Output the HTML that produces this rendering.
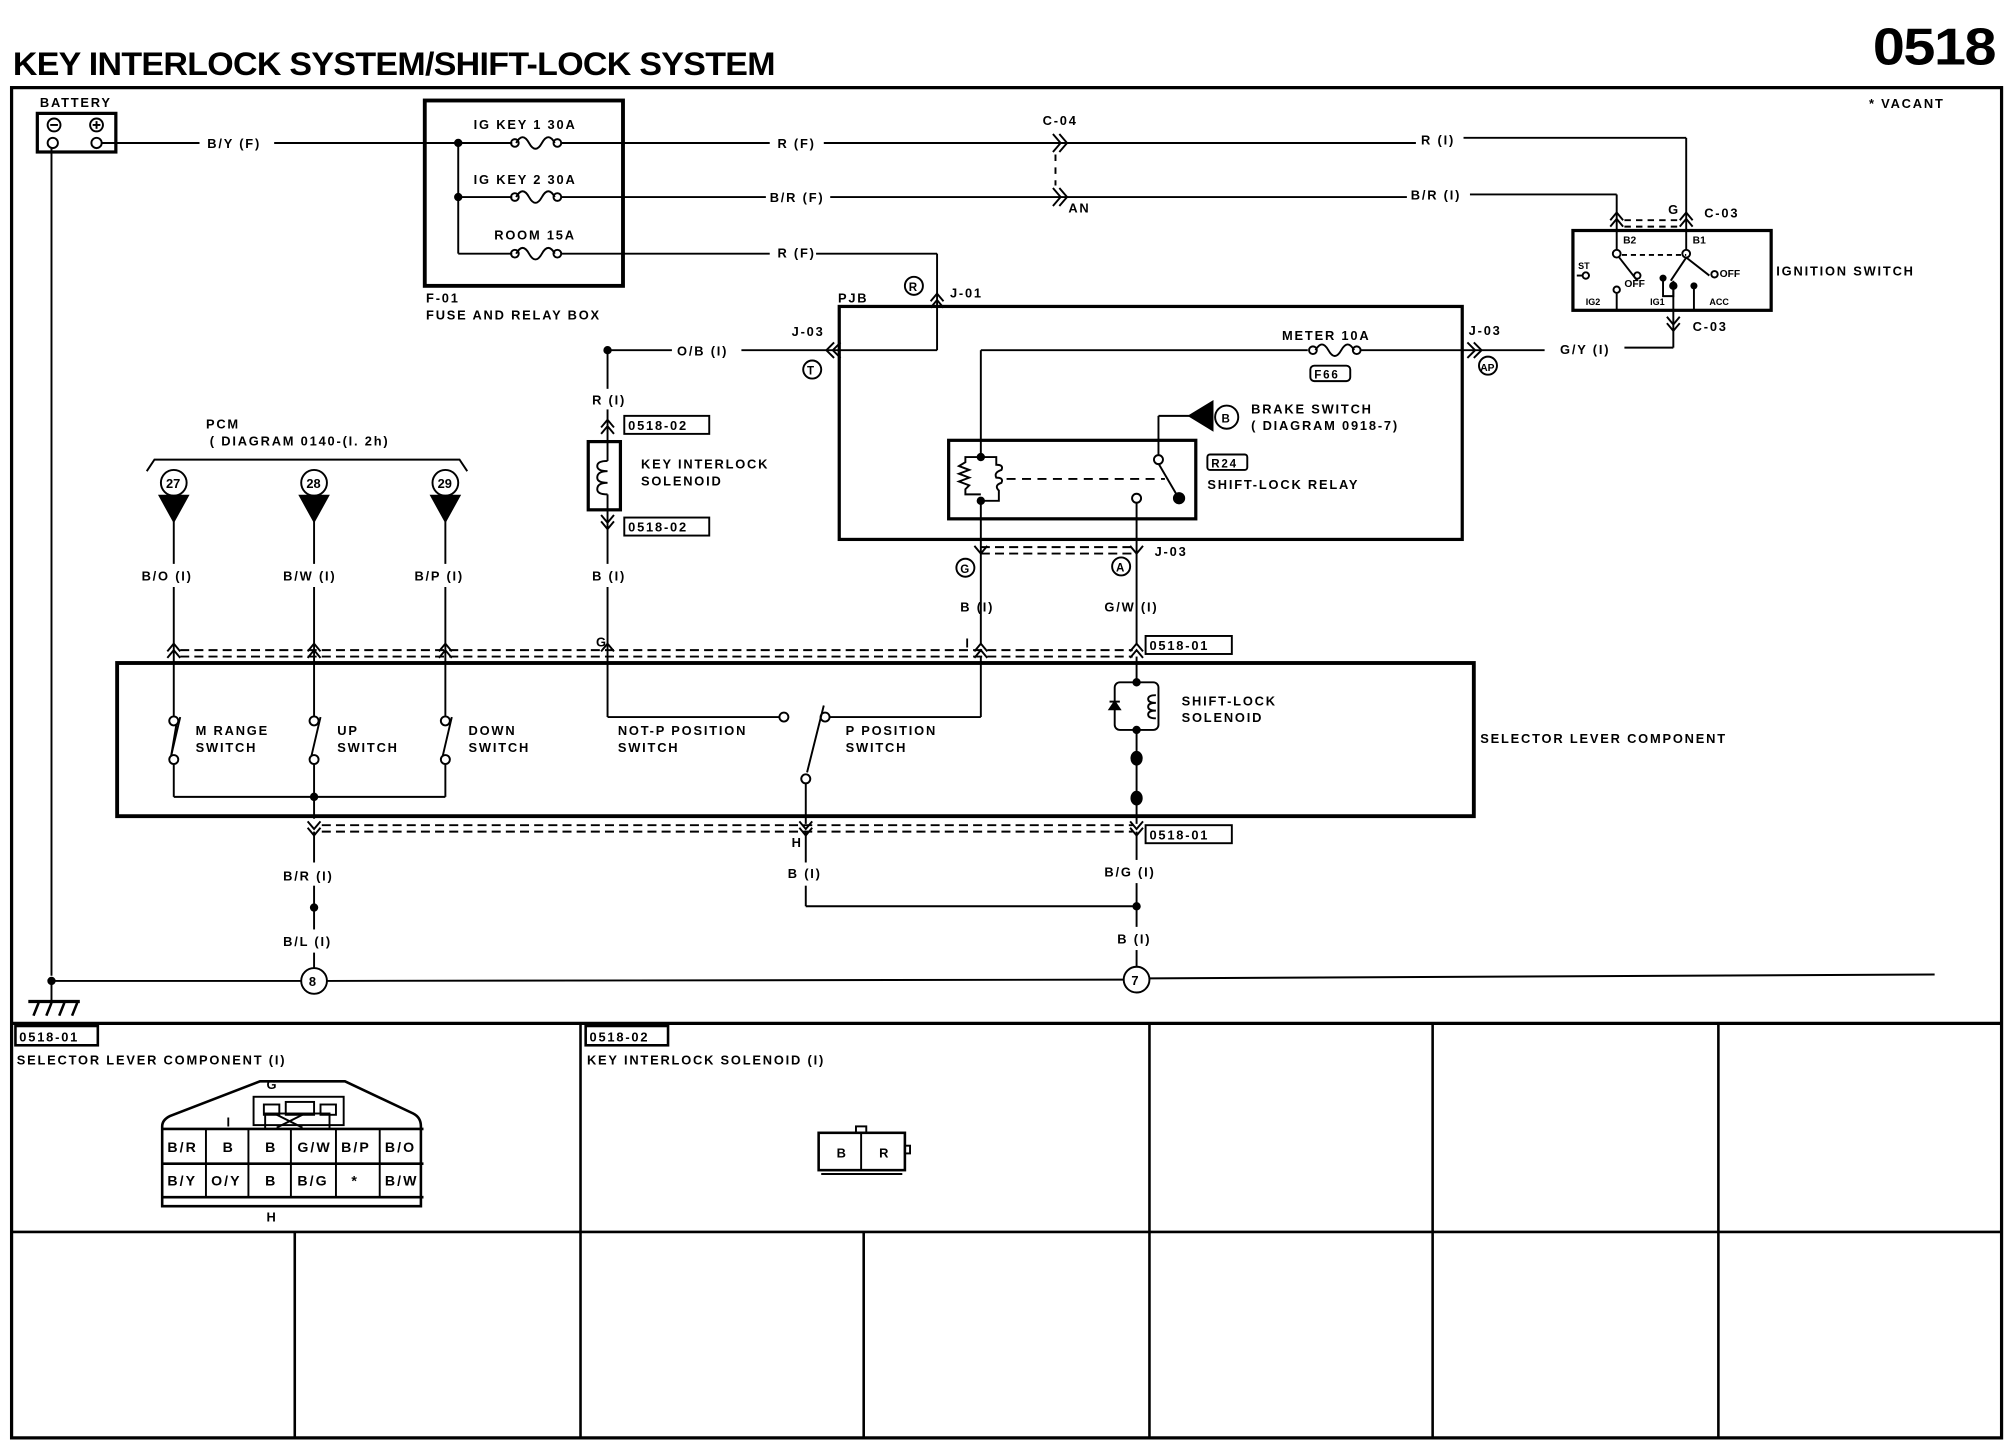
<!DOCTYPE html>
<html><head><meta charset="utf-8"><style>
html,body{margin:0;padding:0;background:#fff;}
svg{display:block;}
text{font-family:"Liberation Sans Narrow","Liberation Sans",sans-serif;font-weight:bold;font-size:11px;letter-spacing:1.6px;fill:#000;}
.t{font-size:10px;letter-spacing:1.4px;}
</style></head><body>
<svg width="2008" height="1456" viewBox="0 0 1560 1131" xmlns="http://www.w3.org/2000/svg" stroke="#000" fill="none" stroke-width="1.5">
<!-- title -->
<text x="10" y="58" stroke="none" style="font-family:'Liberation Sans',sans-serif;font-size:25px;letter-spacing:-0.5px;" textLength="592" lengthAdjust="spacingAndGlyphs">KEY INTERLOCK SYSTEM/SHIFT-LOCK SYSTEM</text>
<text x="1455" y="50" stroke="none" style="font-family:'Liberation Sans',sans-serif;font-size:40px;letter-spacing:-1px;" textLength="95" lengthAdjust="spacingAndGlyphs">0518</text>
<!-- frame -->
<rect x="9" y="68" width="1546" height="1049" stroke-width="2.5"/>
<line x1="9" y1="795" x2="1555" y2="795" stroke-width="2.5"/>
<line x1="9" y1="957" x2="1555" y2="957" stroke-width="2"/>
<line x1="451" y1="795" x2="451" y2="1117" stroke-width="2"/>
<line x1="893" y1="795" x2="893" y2="1117" stroke-width="2"/>
<line x1="1113" y1="795" x2="1113" y2="1117" stroke-width="2"/>
<line x1="1335" y1="795" x2="1335" y2="1117" stroke-width="2"/>
<line x1="229" y1="957" x2="229" y2="1117" stroke-width="2"/>
<line x1="671" y1="957" x2="671" y2="1117" stroke-width="2"/>
<text x="1452" y="84" stroke="none" class="t">* VACANT</text>

<!-- battery -->
<text x="31" y="83" stroke="none" class="t">BATTERY</text>
<rect x="29" y="88" width="61" height="30" stroke-width="2.5"/>
<circle cx="42" cy="97" r="5"/><line x1="39" y1="97" x2="45" y2="97"/>
<circle cx="75" cy="97" r="5"/><line x1="72" y1="97" x2="78" y2="97"/><line x1="75" y1="94" x2="75" y2="100"/>
<circle cx="41" cy="111" r="4"/><circle cx="75" cy="111" r="4"/>
<line x1="79" y1="111" x2="155" y2="111"/><text x="161" y="115" stroke="none" class="t">B/Y (F)</text>
<line x1="213" y1="111" x2="356" y2="111"/>
<line x1="40" y1="115" x2="40" y2="758"/>

<!-- fuse box -->
<rect x="330" y="78" width="154" height="144" stroke-width="3"/>
<line x1="356" y1="111" x2="356" y2="197"/>
<circle cx="356" cy="111" r="2.5" fill="#000"/><circle cx="356" cy="153" r="2.5" fill="#000"/>
<text x="368" y="100" stroke="none" class="t">IG KEY 1 30A</text>
<text x="368" y="143" stroke="none" class="t">IG KEY 2 30A</text>
<text x="384" y="186" stroke="none" class="t">ROOM 15A</text>
<g>
<line x1="356" y1="111" x2="398" y2="111"/><path d="M401 111 q5 -9 10 0 q5 9 10 0 q5 -9 10 0"/><circle cx="400" cy="111" r="3"/><circle cx="433" cy="111" r="3"/>
<line x1="356" y1="153" x2="398" y2="153"/><path d="M401 153 q5 -9 10 0 q5 9 10 0 q5 -9 10 0"/><circle cx="400" cy="153" r="3"/><circle cx="433" cy="153" r="3"/>
<line x1="356" y1="197" x2="398" y2="197"/><path d="M401 197 q5 -9 10 0 q5 9 10 0 q5 -9 10 0"/><circle cx="400" cy="197" r="3"/><circle cx="433" cy="197" r="3"/>
</g>
<text x="331" y="235" stroke="none" class="t">F-01</text>
<text x="331" y="248" stroke="none" class="t">FUSE AND RELAY BOX</text>

<!-- top wires -->
<line x1="436" y1="111" x2="598" y2="111"/><text x="604" y="115" stroke="none" class="t">R (F)</text>
<line x1="640" y1="111" x2="1100" y2="111"/><text x="1104" y="112" stroke="none" class="t">R (I)</text>
<line x1="1137" y1="107" x2="1310" y2="107"/><line x1="1310" y1="107" x2="1310" y2="165"/>
<line x1="436" y1="153" x2="595" y2="153"/><text x="598" y="157" stroke="none" class="t">B/R (F)</text>
<line x1="645" y1="153" x2="1093" y2="153"/><text x="1096" y="155" stroke="none" class="t">B/R (I)</text>
<line x1="1142" y1="151" x2="1256" y2="151"/><line x1="1256" y1="151" x2="1256" y2="165"/>
<text x="810" y="97" stroke="none" class="t">C-04</text>
<path d="M818 104 l6 7 l-6 7 M823 104 l6 7 l-6 7"/>
<path d="M818 146 l6 7 l-6 7 M823 146 l6 7 l-6 7"/>
<line x1="820" y1="120" x2="820" y2="144" stroke-dasharray="5,5"/>
<text x="830" y="165" stroke="none" class="t">AN</text>

<!-- room wire -->
<line x1="436" y1="197" x2="598" y2="197"/><text x="604" y="200" stroke="none" class="t">R (F)</text>
<line x1="634" y1="197" x2="728" y2="197"/><line x1="728" y1="197" x2="728" y2="272"/>
<line x1="728" y1="272" x2="642" y2="272"/>
<path d="M723 234 l5 -6 l5 6 M723 239 l5 -6 l5 6"/>
<circle cx="710" cy="222" r="7"/><text x="706" y="226" stroke="none" class="t" style="font-size:9px">R</text>
<text x="738" y="231" stroke="none" class="t">J-01</text>
<text x="651" y="235" stroke="none" class="t">PJB</text>
<text x="615" y="261" stroke="none" class="t">J-03</text>
<path d="M648 266 l-6 6 l6 6 M653 266 l-6 6 l6 6"/>
<circle cx="631" cy="287" r="7"/><text x="627" y="291" stroke="none" class="t" style="font-size:9px">T</text>
<line x1="472" y1="272" x2="522" y2="272"/><text x="526" y="276" stroke="none" class="t">O/B (I)</text>
<line x1="576" y1="272" x2="642" y2="272"/>
<circle cx="472" cy="272" r="2.5" fill="#000"/>

<!-- key interlock solenoid -->
<line x1="472" y1="272" x2="472" y2="302"/><text x="460" y="314" stroke="none" class="t">R (I)</text>
<line x1="472" y1="318" x2="472" y2="343"/>
<path d="M467 332 l5 -6 l5 6 M467 337 l5 -6 l5 6"/>
<rect x="485" y="323" width="66" height="14"/><text x="488" y="334" stroke="none" class="t">0518-02</text>
<rect x="457" y="343" width="25" height="53" stroke-width="2.5"/>
<line x1="472" y1="343" x2="472" y2="358"/><line x1="472" y1="384" x2="472" y2="396"/>
<path d="M472 358 q-8 0 -8 4 q0 4 8 4 q-8 0 -8 5 q0 4 8 4 q-8 0 -8 5 q0 4 8 4"/>
<text x="498" y="364" stroke="none" class="t">KEY INTERLOCK</text>
<text x="498" y="377" stroke="none" class="t">SOLENOID</text>
<line x1="472" y1="396" x2="472" y2="438"/>
<path d="M467 400 l5 6 l5 -6 M467 405 l5 6 l5 -6"/>
<rect x="485" y="402" width="66" height="14"/><text x="488" y="413" stroke="none" class="t">0518-02</text>
<text x="460" y="451" stroke="none" class="t">B (I)</text>
<line x1="472" y1="456" x2="472" y2="557"/>
<text x="463" y="502" stroke="none" class="t">G</text>
<line x1="472" y1="557" x2="605" y2="557"/><circle cx="609" cy="557" r="3.5"/>

<!-- PJB box -->
<rect x="652" y="238" width="484" height="181" stroke-width="2.5"/>
<line x1="762" y1="272" x2="1016" y2="272"/>
<path d="M1022 272 q5 -9 10 0 q5 9 10 0 q5 -9 10 0"/><circle cx="1020" cy="272" r="3"/><circle cx="1054" cy="272" r="3"/>
<line x1="1057" y1="272" x2="1200" y2="272"/>
<text x="996" y="264" stroke="none" class="t">METER 10A</text>
<rect x="1018" y="284" width="31" height="12" rx="3"/><text x="1021" y="294" stroke="none" class="t" style="font-size:9px">F66</text>
<text x="1141" y="260" stroke="none" class="t">J-03</text>
<path d="M1140 266 l6 6 l-6 6 M1145 266 l6 6 l-6 6"/>
<circle cx="1156" cy="284" r="7"/><text x="1150" y="288" stroke="none" class="t" style="font-size:8px;letter-spacing:0">AP</text>
<text x="1212" y="275" stroke="none" class="t">G/Y (I)</text>
<line x1="1262" y1="270" x2="1300" y2="270"/><line x1="1300" y1="270" x2="1300" y2="241"/>
<path d="M1295 246 l5 6 l5 -6 M1295 251 l5 6 l5 -6"/>
<text x="1315" y="257" stroke="none" class="t">C-03</text>

<!-- relay -->
<rect x="737" y="342" width="192" height="61" stroke-width="2.5"/>
<line x1="762" y1="272" x2="762" y2="355"/>
<circle cx="762" cy="355" r="2.5" fill="#000"/><circle cx="762" cy="389" r="2.5" fill="#000"/>
<path d="M762 355 h-12 v4 l-5 3 l8 3 l-8 3 l8 3 l-8 3 l8 3 l-3 3 v4 h12 M762 355 h12 v6 q6 0 4 4 q-6 2 -4 6 q6 0 4 4 q-6 2 -2 6 v8 h-14"/>
<line x1="762" y1="389" x2="762" y2="500"/>
<line x1="782" y1="372" x2="905" y2="372" stroke-dasharray="7,5"/>
<circle cx="900" cy="357" r="3.5"/><line x1="900" y1="353" x2="900" y2="323"/>
<line x1="900" y1="360" x2="914" y2="384"/><circle cx="916" cy="387" r="4" fill="#000"/>
<circle cx="883" cy="387" r="3.5"/><line x1="883" y1="391" x2="883" y2="500"/>
<line x1="900" y1="323" x2="927" y2="323"/>
<path d="M924 323 l18 -11 v22 z" fill="#000"/>
<circle cx="953" cy="324" r="9"/><text x="949" y="328" stroke="none" class="t" style="font-size:9px">B</text>
<text x="972" y="321" stroke="none" class="t">BRAKE SWITCH</text>
<text x="972" y="334" stroke="none" class="t">( DIAGRAM 0918-7)</text>
<rect x="938" y="353" width="31" height="12" rx="2"/><text x="941" y="363" stroke="none" class="t" style="font-size:9px">R24</text>
<text x="938" y="380" stroke="none" class="t">SHIFT-LOCK RELAY</text>
<line x1="762" y1="425" x2="883" y2="425" stroke-dasharray="7,4"/>
<line x1="762" y1="430" x2="883" y2="430" stroke-dasharray="7,4"/>
<path d="M757 424 l5 6 l5 -6 M878 424 l5 6 l5 -6"/>
<circle cx="750" cy="441" r="7"/><text x="746" y="445" stroke="none" class="t" style="font-size:9px">G</text>
<circle cx="871" cy="440" r="7"/><text x="867" y="444" stroke="none" class="t" style="font-size:9px">A</text>
<text x="897" y="432" stroke="none" class="t">J-03</text>
<text x="746" y="475" stroke="none" class="t">B (I)</text>
<text x="858" y="475" stroke="none" class="t">G/W (I)</text>
<text x="750" y="503" stroke="none" class="t">I</text>
<rect x="890" y="494" width="67" height="14"/><text x="893" y="505" stroke="none" class="t">0518-01</text>

<!-- ignition switch -->
<rect x="1222" y="179" width="154" height="62" stroke-width="2.5"/>
<text x="1380" y="214" stroke="none" class="t">IGNITION SWITCH</text>
<text x="1324" y="169" stroke="none" class="t">C-03</text>
<text x="1296" y="166" stroke="none" class="t">G</text>
<path d="M1251 171 l5 -6 l5 6 M1251 176 l5 -6 l5 6 M1305 171 l5 -6 l5 6 M1305 176 l5 -6 l5 6"/>
<line x1="1262" y1="171" x2="1305" y2="171" stroke-dasharray="5,4"/><line x1="1262" y1="176" x2="1305" y2="176" stroke-dasharray="5,4"/>
<line x1="1256" y1="165" x2="1256" y2="194"/><line x1="1310" y1="165" x2="1310" y2="194"/>
<circle cx="1256" cy="197" r="3"/><circle cx="1310" cy="197" r="3"/>
<text x="1261" y="189" stroke="none" style="font-size:8px;letter-spacing:0">B2</text>
<text x="1315" y="189" stroke="none" style="font-size:8px;letter-spacing:0">B1</text>
<line x1="1260" y1="198" x2="1310" y2="198" stroke-dasharray="4,3"/>
<line x1="1258" y1="200" x2="1272" y2="218"/>
<line x1="1310" y1="200" x2="1298" y2="218"/><line x1="1310" y1="200" x2="1328" y2="214"/>
<circle cx="1232" cy="214" r="2.5"/><line x1="1225" y1="214" x2="1230" y2="214"/>
<text x="1226" y="209" stroke="none" style="font-size:7px;letter-spacing:0">ST</text>
<circle cx="1272" cy="214" r="2.5"/><circle cx="1256" cy="225" r="2.5"/><line x1="1256" y1="228" x2="1256" y2="241"/>
<text x="1262" y="223" stroke="none" style="font-size:8px;letter-spacing:0">OFF</text>
<text x="1336" y="215" stroke="none" style="font-size:8px;letter-spacing:0">OFF</text>
<circle cx="1332" cy="213" r="2.5"/>
<path d="M1292 218 v12 h8 v-12" /><circle cx="1292" cy="216" r="2" fill="#000"/><circle cx="1300" cy="222" r="2.5" fill="#000"/>
<line x1="1300" y1="225" x2="1300" y2="241"/><circle cx="1316" cy="222" r="2" fill="#000"/><line x1="1316" y1="224" x2="1316" y2="241"/>
<text x="1232" y="237" stroke="none" style="font-size:7px;letter-spacing:0">IG2</text>
<text x="1282" y="237" stroke="none" style="font-size:7px;letter-spacing:0">IG1</text>
<text x="1328" y="237" stroke="none" style="font-size:7px;letter-spacing:0">ACC</text>

<!-- PCM -->
<text x="160" y="333" stroke="none" class="t">PCM</text>
<text x="163" y="346" stroke="none" class="t">( DIAGRAM 0140-(I. 2h)</text>
<path d="M114 366 l6 -9 h237 l6 9"/>
<g>
<circle cx="135" cy="375" r="10"/><text x="129" y="379" stroke="none" style="font-size:10px;letter-spacing:0">27</text>
<path d="M124 385 h22 l-11 20 z" fill="#000"/>
<circle cx="244" cy="375" r="10"/><text x="238" y="379" stroke="none" style="font-size:10px;letter-spacing:0">28</text>
<path d="M233 385 h22 l-11 20 z" fill="#000"/>
<circle cx="346" cy="375" r="10"/><text x="340" y="379" stroke="none" style="font-size:10px;letter-spacing:0">29</text>
<path d="M335 385 h22 l-11 20 z" fill="#000"/>
</g>
<line x1="135" y1="405" x2="135" y2="438"/><line x1="244" y1="405" x2="244" y2="438"/><line x1="346" y1="405" x2="346" y2="438"/>
<text x="110" y="451" stroke="none" class="t">B/O (I)</text>
<text x="220" y="451" stroke="none" class="t">B/W (I)</text>
<text x="322" y="451" stroke="none" class="t">B/P (I)</text>
<line x1="135" y1="456" x2="135" y2="556"/><line x1="244" y1="456" x2="244" y2="556"/><line x1="346" y1="456" x2="346" y2="556"/>

<!-- connector row top -->
<line x1="140" y1="505" x2="880" y2="505" stroke-dasharray="7,4"/>
<line x1="140" y1="510" x2="880" y2="510" stroke-dasharray="7,4"/>
<path d="M130 506 l5 -6 l5 6 M130 511 l5 -6 l5 6 M239 506 l5 -6 l5 6 M239 511 l5 -6 l5 6 M341 506 l5 -6 l5 6 M341 511 l5 -6 l5 6 M467 506 l5 -6 l5 6 M757 506 l5 -6 l5 6 M757 511 l5 -6 l5 6 M878 506 l5 -6 l5 6 M878 511 l5 -6 l5 6"/>

<!-- selector box -->
<rect x="91" y="515" width="1054" height="119" stroke-width="3"/>
<text x="1150" y="577" stroke="none" class="t">SELECTOR LEVER COMPONENT</text>
<!-- switches -->
<g>
<circle cx="135" cy="560" r="3.5"/><circle cx="135" cy="590" r="3.5"/><line x1="137" y1="563" x2="133" y2="587" transform="rotate(0)"/>
<line x1="140" y1="557" x2="133" y2="587"/>
<circle cx="244" cy="560" r="3.5"/><circle cx="244" cy="590" r="3.5"/><line x1="249" y1="557" x2="242" y2="587"/>
<circle cx="346" cy="560" r="3.5"/><circle cx="346" cy="590" r="3.5"/><line x1="351" y1="557" x2="344" y2="587"/>
</g>
<text x="152" y="571" stroke="none" class="t">M RANGE</text><text x="152" y="584" stroke="none" class="t">SWITCH</text>
<text x="262" y="571" stroke="none" class="t">UP</text><text x="262" y="584" stroke="none" class="t">SWITCH</text>
<text x="364" y="571" stroke="none" class="t">DOWN</text><text x="364" y="584" stroke="none" class="t">SWITCH</text>
<line x1="135" y1="594" x2="135" y2="619"/><line x1="244" y1="594" x2="244" y2="636"/><line x1="346" y1="594" x2="346" y2="619"/>
<line x1="135" y1="619" x2="346" y2="619"/><circle cx="244" cy="619" r="2.5" fill="#000"/>
<text x="480" y="571" stroke="none" class="t">NOT-P POSITION</text><text x="480" y="584" stroke="none" class="t">SWITCH</text>
<line x1="762" y1="510" x2="762" y="0" y2="557"/><line x1="762" y1="557" x2="644" y2="557"/><circle cx="641" cy="557" r="3.5"/>
<line x1="640" y1="548" x2="627" y2="600"/><circle cx="626" cy="605" r="3.5"/>
<line x1="626" y1="609" x2="626" y2="640"/>
<text x="657" y="571" stroke="none" class="t">P POSITION</text><text x="657" y="584" stroke="none" class="t">SWITCH</text>
<!-- shift-lock solenoid -->
<line x1="883" y1="510" x2="883" y2="530"/>
<rect x="866" y="530" width="34" height="37" rx="4"/>
<circle cx="883" cy="530" r="2.5" fill="#000"/><circle cx="883" cy="567" r="2.5" fill="#000"/>
<path d="M866 545 l4 6 h-8 z" fill="#000"/><line x1="862" y1="545" x2="870" y2="545"/>
<path d="M898 540 q-6 0 -6 3 q0 3 6 3 q-6 0 -6 3 q0 3 6 3 q-6 0 -6 3 q0 3 6 3"/>
<text x="918" y="548" stroke="none" class="t">SHIFT-LOCK</text><text x="918" y="561" stroke="none" class="t">SOLENOID</text>
<line x1="883" y1="567" x2="883" y2="640"/>
<ellipse cx="883" cy="589" rx="4" ry="5" fill="#000"/><ellipse cx="883" cy="620" rx="4" ry="5" fill="#000"/>

<!-- connector row bottom -->
<line x1="250" y1="641" x2="880" y2="641" stroke-dasharray="7,4"/>
<line x1="250" y1="646" x2="880" y2="646" stroke-dasharray="7,4"/>
<path d="M239 638 l5 6 l5 -6 M239 643 l5 6 l5 -6 M621 638 l5 6 l5 -6 M621 643 l5 6 l5 -6 M878 638 l5 6 l5 -6 M878 643 l5 6 l5 -6"/>
<rect x="890" y="641" width="67" height="14"/><text x="893" y="652" stroke="none" class="t">0518-01</text>
<text x="615" y="658" stroke="none" class="t">H</text>

<!-- bottom wires -->
<line x1="244" y1="646" x2="244" y2="670"/><text x="220" y="684" stroke="none" class="t">B/R (I)</text>
<line x1="244" y1="688" x2="244" y2="722"/><circle cx="244" cy="705" r="2.5" fill="#000"/>
<text x="220" y="735" stroke="none" class="t">B/L (I)</text>
<line x1="244" y1="740" x2="244" y2="752"/>
<line x1="626" y1="646" x2="626" y2="670"/><text x="612" y="682" stroke="none" class="t">B (I)</text>
<line x1="626" y1="688" x2="626" y2="704"/><line x1="626" y1="704" x2="883" y2="704"/>
<line x1="883" y1="646" x2="883" y2="668"/><text x="858" y="681" stroke="none" class="t">B/G (I)</text>
<line x1="883" y1="686" x2="883" y2="720"/><circle cx="883" cy="704" r="2.5" fill="#000"/>
<text x="868" y="733" stroke="none" class="t">B (I)</text>
<line x1="883" y1="738" x2="883" y2="752"/>
<!-- ground -->
<line x1="40" y1="762" x2="234" y2="762"/><line x1="254" y1="762" x2="873" y2="761"/><line x1="893" y1="760" x2="1503" y2="757"/>
<circle cx="40" cy="762" r="2.5" fill="#000"/>
<circle cx="244" cy="762" r="10" fill="#fff"/><text x="240" y="766" stroke="none" style="font-size:10px;letter-spacing:0">8</text>
<circle cx="883" cy="761" r="10" fill="#fff"/><text x="879" y="765" stroke="none" style="font-size:10px;letter-spacing:0">7</text>
<line x1="40" y1="762" x2="40" y2="778"/>
<line x1="22" y1="778" x2="62" y2="778" stroke-width="2.5"/>
<path d="M30 779 l-4 10 M40 779 l-4 10 M50 779 l-4 10 M60 779 l-4 10" stroke-width="2"/>

<!-- bottom connectors -->
<rect x="12" y="797" width="64" height="15" stroke-width="2"/><text x="15" y="809" stroke="none" class="t">0518-01</text>
<text x="13" y="827" stroke="none" class="t">SELECTOR LEVER COMPONENT (I)</text>
<text x="207" y="846" stroke="none" class="t">G</text>
<path d="M126 937 v-62 q0 -5 6 -8 l70 -27 h66 l53 25 q6 3 6 10 v62 z" stroke-width="2"/>
<rect x="197" y="852" width="70" height="22"/>
<rect x="205" y="858" width="12" height="8"/><rect x="222" y="856" width="22" height="10"/><rect x="249" y="858" width="12" height="8"/>
<rect x="206" y="865" width="50" height="12"/><path d="M215 866 l20 10 M235 866 l-20 10"/>
<text x="176" y="875" stroke="none" class="t">I</text>
<line x1="126" y1="877" x2="329" y2="877" stroke-width="2"/><line x1="126" y1="904" x2="329" y2="904" stroke-width="2"/><line x1="126" y1="930" x2="329" y2="930" stroke-width="2"/>
<line x1="160" y1="877" x2="160" y2="930"/><line x1="193" y1="877" x2="193" y2="930"/><line x1="226" y1="877" x2="226" y2="930"/><line x1="261" y1="877" x2="261" y2="930"/><line x1="295" y1="877" x2="295" y2="930"/>
<g stroke="none" style="font-size:10px;letter-spacing:0.5px">
<text x="130" y="895">B/R</text><text x="173" y="895">B</text><text x="206" y="895">B</text><text x="231" y="895">G/W</text><text x="265" y="895">B/P</text><text x="299" y="895">B/O</text>
<text x="130" y="921">B/Y</text><text x="164" y="921">O/Y</text><text x="206" y="921">B</text><text x="231" y="921">B/G</text><text x="273" y="921">*</text><text x="299" y="921">B/W</text>
</g>
<text x="207" y="949" stroke="none" class="t">H</text>

<rect x="455" y="797" width="64" height="15" stroke-width="2"/><text x="458" y="809" stroke="none" class="t">0518-02</text>
<text x="456" y="827" stroke="none" class="t">KEY INTERLOCK SOLENOID (I)</text>
<rect x="636" y="880" width="67" height="29" stroke-width="2"/>
<line x1="669" y1="880" x2="669" y2="909"/><rect x="665" y="875" width="8" height="5"/>
<rect x="703" y="890" width="4" height="6"/><line x1="638" y1="912" x2="701" y2="912"/>
<text x="650" y="899" stroke="none" class="t">B</text><text x="683" y="899" stroke="none" class="t">R</text>
</svg>
</body></html>
